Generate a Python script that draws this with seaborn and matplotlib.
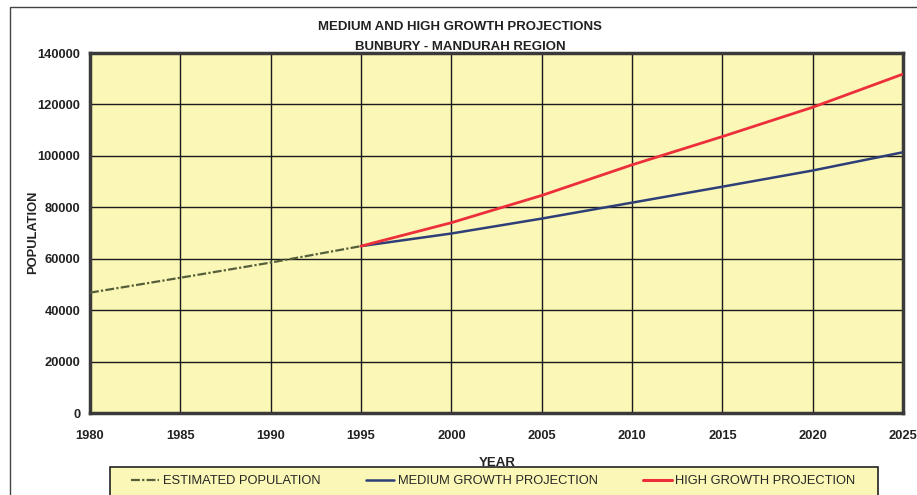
import matplotlib
matplotlib.use("Agg")
import matplotlib.pyplot as plt
import seaborn as sns
import pandas as pd
from matplotlib.patches import Rectangle
from matplotlib.lines import Line2D

# ---- data ----
est_years = [1980, 1985, 1990, 1995]
est_pop = [46800, 52600, 58500, 64900]

proj_years = [1995, 2000, 2005, 2010, 2015, 2020, 2025]
medium_pop = [64900, 69800, 75600, 81800, 88000, 94300, 101400]
high_pop = [64900, 74000, 84600, 96500, 107500, 118900, 131800]

x_ticks = [1980, 1985, 1990, 1995, 2000, 2005, 2010, 2015, 2020, 2025]
y_ticks = [0, 20000, 40000, 60000, 80000, 100000, 120000, 140000]

title1 = "MEDIUM AND HIGH GROWTH PROJECTIONS"
title2 = "BUNBURY - MANDURAH REGION"
labels = ["ESTIMATED POPULATION", "MEDIUM GROWTH PROJECTION", "HIGH GROWTH PROJECTION"]

sns.set_theme(style="white")
plt.rcParams['font.family'] = ['Liberation Sans', 'DejaVu Sans']

W, H = 917, 495
fig = plt.figure(figsize=(W / 100, H / 100), dpi=100)
ax = fig.add_axes([90 / W, 1 - 413 / H, (903 - 90) / W, (413 - 53) / H])

c_est = "#55603a"
c_med = "#2e3f78"
c_high = "#ec2f3b"
bg = "#fbf7b6"

df_est = pd.DataFrame({"year": est_years, "pop": est_pop})
df_med = pd.DataFrame({"year": proj_years, "pop": medium_pop})
df_high = pd.DataFrame({"year": proj_years, "pop": high_pop})

sns.lineplot(data=df_est, x="year", y="pop", ax=ax, color=c_est, linewidth=1.6,
             linestyle=(0, (4, 1, 1, 1)), zorder=4)
sns.lineplot(data=df_med, x="year", y="pop", ax=ax, color=c_med, linewidth=1.8, zorder=4)
sns.lineplot(data=df_high, x="year", y="pop", ax=ax, color=c_high, linewidth=2.0, zorder=5)

ax.set_facecolor(bg)
ax.set_xlim(1980, 2025)
ax.set_ylim(0, 140000)
ax.set_xticks(x_ticks)
ax.set_yticks(y_ticks)
ax.set_xticklabels([str(t) for t in x_ticks], fontsize=9.3, fontweight="bold", color="#222222")
ax.set_yticklabels([str(t) for t in y_ticks], fontsize=9.3, fontweight="bold", color="#222222")
ax.tick_params(axis="x", pad=12, length=0)
ax.tick_params(axis="y", pad=4, length=3, color="#333333")
ax.grid(True, color="#1a1a1a", linewidth=1.0)
ax.set_axisbelow(True)
for s in ax.spines.values():
    s.set_visible(True)
    s.set_color("#3a3a3a")
    s.set_linewidth(2.5)
ax.set_xlabel("")
ax.set_ylabel("")

fig.text(33 / W, 1 - 232 / H, "POPULATION", rotation=90, ha="center", va="center",
         fontsize=9.3, fontweight="bold", color="#222222")
fig.text(497 / W, 1 - 463 / H, "YEAR", ha="center", va="center",
         fontsize=9.5, fontweight="bold", color="#222222")
fig.text(460 / W, 1 - 27 / H, title1, ha="center", va="center",
         fontsize=9.5, fontweight="bold", color="#222222")
fig.text(460 / W, 1 - 47 / H, title2, ha="center", va="center",
         fontsize=9.5, fontweight="bold", color="#222222")

# outer frame
fig.add_artist(Rectangle((10 / W, -0.05), 1.2, 1 - 7 / H + 0.05, transform=fig.transFigure,
                         fill=False, edgecolor="#444444", linewidth=1.0))

# legend frame
fig.add_artist(Rectangle((110 / W, -0.05), (878 - 110) / W, 1 - 467 / H + 0.05,
                         transform=fig.transFigure, facecolor=bg,
                         edgecolor="#222222", linewidth=1.2, zorder=1))

handles = [
    Line2D([0], [0], color=c_est, lw=1.6, linestyle=(0, (4, 1, 1, 1))),
    Line2D([0], [0], color=c_med, lw=1.8),
    Line2D([0], [0], color=c_high, lw=2.2),
]
leg = fig.legend(handles, labels, loc="center left",
                 bbox_to_anchor=(131 / W, 1 - 481 / H), ncol=3, fontsize=9.3,
                 frameon=False, handlelength=2.2, handletextpad=0.25,
                 columnspacing=3.55, borderpad=0, borderaxespad=0)
leg.set_zorder(3)

fig.savefig("out.png", dpi=100)
